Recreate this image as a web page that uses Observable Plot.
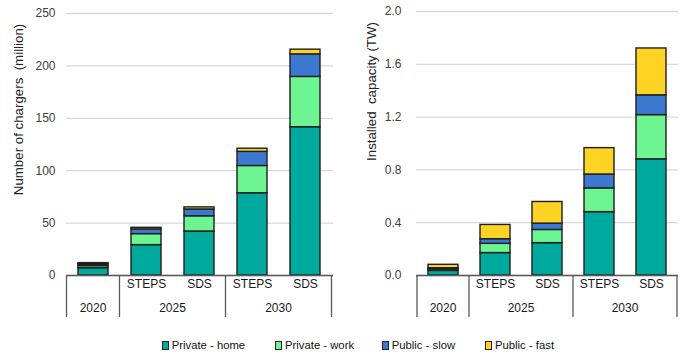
<!DOCTYPE html>
<html><head><meta charset="utf-8">
<script src="https://cdn.jsdelivr.net/npm/d3@7"></script>
<script src="https://cdn.jsdelivr.net/npm/@observablehq/plot@0.6"></script>
<style>
body{margin:0;background:#fff;font-family:Arial,"Liberation Sans",sans-serif;}
#charts{display:flex;width:700px;height:330px;}
#legend{position:relative;width:700px;height:29px;}
.item{position:absolute;top:8px;height:14px;display:flex;align-items:center;font-size:11.3px;color:#111;white-space:nowrap;}
.sw{width:5px;height:7px;border:1px solid #222;margin-right:3px;}
</style></head>
<body><div id="charts"></div><div id="legend"></div>
<script>
const keys = ["2020", "2025 STEPS", "2025 SDS", "2030 STEPS", "2030 SDS"];
const scenarioLabels = ["", "STEPS", "SDS", "STEPS", "SDS"];
const yearLabels = ["2020", "2025", "2030"];
const yearMembers = [["2020"], ["2025 STEPS", "2025 SDS"], ["2030 STEPS", "2030 SDS"]];
const series = ["Private - home", "Private - work", "Public - slow", "Public - fast"];
const colors = ["#00A99D", "#6CF590", "#3C78D0", "#FFD323"];

// Number of chargers (million)
const chargersHome = [7, 29, 42, 78.5, 141.5];
const chargersWork = [2, 10.5, 14.5, 26, 48];
const chargersSlow = [1.5, 4.5, 6.5, 13.5, 21.5];
const chargersFast = [1.3, 1.5, 2, 3, 4.5];
const chargerTicks = [0, 50, 100, 150, 200, 250];

// Installed capacity (TW)
const capHome = [0.035, 0.17, 0.245, 0.48, 0.88];
const capWork = [0.012, 0.07, 0.1, 0.18, 0.335];
const capSlow = [0.008, 0.035, 0.048, 0.105, 0.15];
const capFast = [0.026, 0.108, 0.164, 0.2, 0.355];
const capTicks = [0, 0.4, 0.8, 1.2, 1.6, 2.0];

function toRows(arrays) {
  return keys.flatMap((k, i) => series.map((s, j) => ({key: k, series: s, value: arrays[j][i]})));
}

function makeChart(opts) {
  const {rows, ticks, fmt, title, mt, ml, mr, tickPad, titleDx, titleDy} = opts;
  const W = 350, H = 330, mb = 55;
  const chart = Plot.plot({
    width: W, height: H,
    marginLeft: ml, marginRight: mr, marginTop: mt, marginBottom: mb,
    style: {fontFamily: "Arial, 'Liberation Sans', sans-serif", fontSize: "12px", color: "#404040", background: "transparent", overflow: "visible"},
    x: {domain: keys, paddingInner: 0.425, paddingOuter: 0.2125, axis: null},
    y: {domain: [ticks[0], ticks[ticks.length - 1]], axis: null, label: null},
    color: {domain: series, range: colors},
    marks: [
      Plot.gridY(ticks, {stroke: "#d9d9d9", strokeOpacity: 1, strokeWidth: 1.3}),
      Plot.axisY(ticks, {tickSize: 0, tickPadding: tickPad, tickFormat: fmt, fontSize: 12, label: null}),
      Plot.barY(rows, {x: "key", y: "value", fill: "series", stroke: "#1e1e1e", strokeWidth: 1.4}),
      Plot.ruleY([0], {stroke: "#595959", strokeWidth: 1.5}),
      Plot.text(keys.filter((k, i) => scenarioLabels[i]), {
        x: d => d, text: d => scenarioLabels[keys.indexOf(d)],
        frameAnchor: "bottom", dy: 12, fontSize: 12, fill: "#1a1a1a"
      }),
      Plot.text([title], {frameAnchor: "left", textAnchor: "middle", rotate: -90, dx: titleDx, dy: titleDy, fontSize: 13.3, fill: "#222"})
    ]
  });
  // hierarchical category axis using the plot's x scale
  const xs = chart.scale("x");
  const bw = xs.bandwidth, step = xs.step, gap = (step - bw) / 2;
  const y0 = H - mb;
  const g = d3.select(chart).append("g");
  const bounds = [];
  yearMembers.forEach((members, gi) => {
    const left = xs.apply(members[0]) - gap;
    const right = xs.apply(members[members.length - 1]) + bw + gap;
    if (gi === 0) bounds.push(left);
    bounds.push(right);
    const cx = members.reduce((s, m) => s + xs.apply(m) + bw / 2, 0) / members.length;
    g.append("text").attr("x", cx).attr("y", y0 + 33).attr("dy", "0.32em")
      .attr("text-anchor", "middle").attr("font-size", 12).attr("fill", "#1a1a1a")
      .text(yearLabels[gi]);
  });
  bounds.forEach(bx => {
    g.append("line").attr("x1", bx).attr("x2", bx).attr("y1", y0).attr("y2", y0 + 42)
      .attr("stroke", "#595959").attr("stroke-width", 1.3);
  });
  return chart;
}

const fmt0 = d3.format("d");
const fmt1 = d3.format(".1f");
const charts = document.getElementById("charts");
charts.append(makeChart({
  rows: toRows([chargersHome, chargersWork, chargersSlow, chargersFast]),
  ticks: chargerTicks, fmt: fmt0, title: "Number of chargers\u00a0\u00a0(million)",
  mt: 13, ml: 66, mr: 17, tickPad: 11, titleDx: -48, titleDy: -35
}));
charts.append(makeChart({
  rows: toRows([capHome, capWork, capSlow, capFast]),
  ticks: capTicks, fmt: fmt1, title: "Installed\u00a0\u00a0capacity (TW)",
  mt: 11, ml: 66, mr: 22, tickPad: 15, titleDx: -45, titleDy: -52
}));

const legendLefts = [161.7, 275, 381.7, 485];
const legend = document.getElementById("legend");
series.forEach((s, i) => {
  const it = document.createElement("div");
  it.className = "item";
  it.style.left = legendLefts[i] + "px";
  const sw = document.createElement("span");
  sw.className = "sw";
  sw.style.background = colors[i];
  const t = document.createElement("span");
  t.textContent = s;
  it.append(sw, t);
  legend.append(it);
});
</script>
</body></html>
